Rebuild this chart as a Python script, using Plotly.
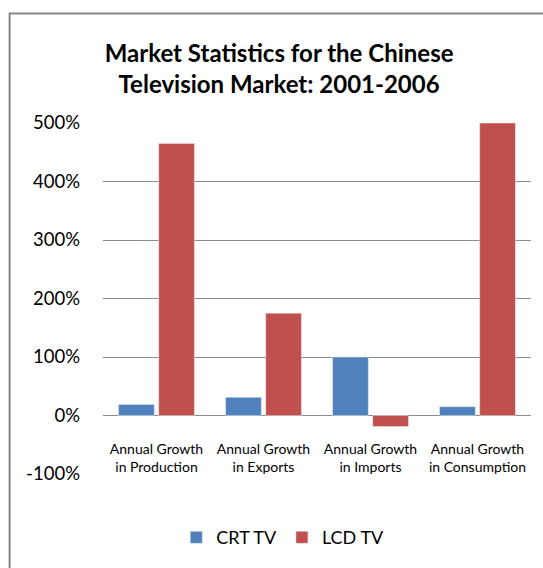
import plotly.graph_objects as go

categories = ["Annual Growth<br>in Production", "Annual Growth<br>in Exports",
              "Annual Growth<br>in Imports", "Annual Growth<br>in Consumption"]
crt_tv = [19, 31, 100, 15]
lcd_tv = [465, 175, -19, 500]
y_ticks = [-100, 0, 100, 200, 300, 400, 500]
y_labels = [f"{v}%" for v in y_ticks]

BLUE = "#4F81BD"
RED = "#C0504D"
GRID = "#8C8C8C"
FONT = "Lato"

fig = go.Figure()
fig.add_trace(go.Bar(name="CRT TV", x=categories, y=crt_tv, marker_color=BLUE))
fig.add_trace(go.Bar(name="LCD TV", x=categories, y=lcd_tv, marker_color=RED))

y_min, y_max = -100, 500
zero_pos = (0 - y_min) / (y_max - y_min)

# plot area in pixels
L, R, T, B = 103, 531.5, 123, 476
W, H = 543, 568
pw, ph = R - L, B - T

fig.update_layout(
    width=W, height=H,
    margin=dict(l=L, r=W - R, t=T, b=H - B),
    paper_bgcolor="white", plot_bgcolor="white",
    barmode="group", bargap=0.25, bargroupgap=0.11,
    font=dict(family=FONT, color="black"),
    title=dict(
        text="<b>Market Statistics for the Chinese<br>Television Market: 2001-2006</b>",
        x=0.514, xanchor="center", y=1 - 62 / H, yanchor="middle",
        font=dict(size=24, family=FONT, color="black"),
    ),
    xaxis=dict(
        anchor="free", position=zero_pos, showgrid=False, showline=False,
        ticks="", tickfont=dict(size=14, family=FONT), ticklabelstandoff=23,
    ),
    yaxis=dict(
        range=[y_min, y_max], tickvals=y_ticks, ticktext=y_labels,
        showgrid=True, gridcolor=GRID, gridwidth=1.3,
        zeroline=True, zerolinecolor=GRID, zerolinewidth=1.3,
        showline=False, ticks="", tickfont=dict(size=18.5, family=FONT),
        ticklabelstandoff=22,
    ),
    legend=dict(
        orientation="h", x=(283 - L) / pw, xanchor="center",
        y=(B - 540) / ph, yanchor="middle",
        font=dict(size=18, family=FONT), itemwidth=30, traceorder="normal",
    ),
    showlegend=True,
)

# outer chart frame (right and bottom edges fall outside the page)
fig.add_shape(type="rect", xref="paper", yref="paper",
              x0=(9.5 - L) / pw, x1=1.3, y0=-0.6, y1=(B - 13) / ph,
              line=dict(color="#888888", width=2), layer="below")

fig.write_html("out.html")
